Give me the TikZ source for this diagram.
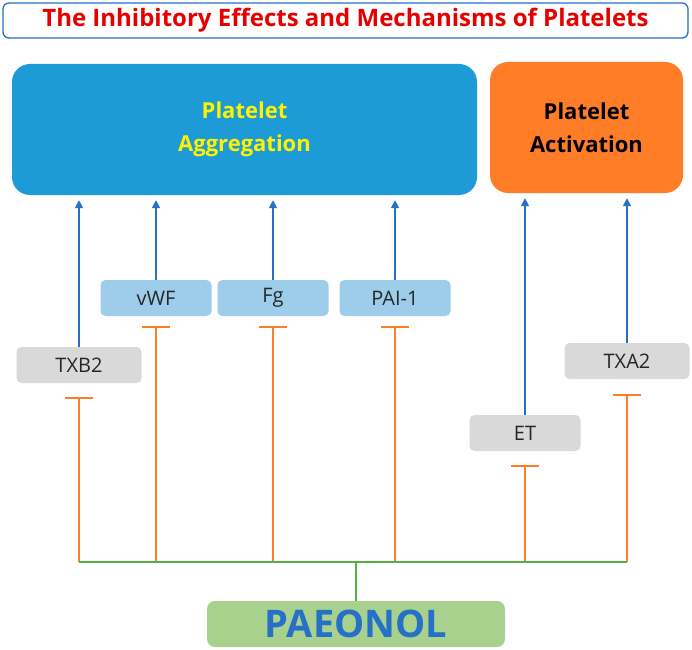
\documentclass[tikz,border=0pt]{standalone}
\usepackage{fontspec}
\setmainfont{Open Sans}
\usetikzlibrary{positioning,arrows.meta}

\definecolor{aggblue}{RGB}{29,155,215}
\definecolor{actorange}{RGB}{255,125,39}
\definecolor{factblue}{RGB}{157,205,235}
\definecolor{factgray}{RGB}{217,217,217}
\definecolor{paeogreen}{RGB}{169,209,142}
\definecolor{busgreen}{RGB}{84,176,64}
\definecolor{arrowblue}{RGB}{38,112,200}
\definecolor{titlered}{RGB}{230,0,0}

\begin{document}
\begin{tikzpicture}[x=1pt,y=1pt,
    facteur/.style={rounded corners=5pt, minimum height=36pt, inner sep=0pt,
        font=\fontsize{20}{20}\selectfont, text=black!85},
    stim/.style={draw=arrowblue, line width=1.6pt, -{Triangle[width=8pt,length=8pt]}, shorten >=5pt},
    inhib/.style={draw=actorange, line width=1.8pt, -{Bar[width=28pt]}}]
    \useasboundingbox (0,0) rectangle (692,649);

    % Titre
    \node[draw=arrowblue, line width=1.3pt, rounded corners=6pt, fill=white,
        minimum width=685pt, minimum height=35pt, inner sep=0pt,
        font=\fontsize{24}{24}\selectfont\bfseries, text=titlered]
        (titre) at (345.5,628.5) {The Inhibitory Effects and Mechanisms of Platelets};

    % Effets
    \node[fill=aggblue, rounded corners=18pt, minimum width=465pt, minimum height=131pt,
        align=center, font=\fontsize{22}{33}\selectfont\bfseries, text=yellow]
        (agg) at (244.5,519.5) {Platelet\\Aggregation};
    \node[fill=actorange, rounded corners=18pt, minimum width=193pt, minimum height=131pt,
        align=center, font=\fontsize{22}{33}\selectfont\bfseries, text=black]
        (act) at (586.5,521.5) {Platelet\\Activation};

    % Facteurs
    \node[facteur, fill=factgray, minimum width=125pt] (txb) at (79,284) {TXB2};
    \node[facteur, fill=factblue, minimum width=111pt] (vwf) at (156,351) {vWF};
    \node[facteur, fill=factblue, minimum width=111pt] (fg) at (273,351) {Fg};
    \node[facteur, fill=factblue, minimum width=111pt] (pai) at (395,351) {PAI-1};
    \node[facteur, fill=factgray, minimum width=111pt] (et) at (525,216) {ET};
    \node[facteur, fill=factgray, minimum width=125pt] (txa) at (627,288) {TXA2};

    % Stimulation
    \foreach \f in {txb,vwf,fg,pai}
        \draw[stim] (\f.north) -- (\f.north |- agg.south);
    \foreach \f in {et,txa}
        \draw[stim] (\f.north) -- (\f.north |- act.south);

    % Paeonol
    \node[fill=paeogreen, rounded corners=8pt, minimum width=298pt, minimum height=46pt,
        font=\fontsize{38}{38}\selectfont\bfseries, text=arrowblue]
        (paeo) at (356,25) {PAEONOL};
    \coordinate (bus) at (356,87);

    % Inhibition
    \draw[inhib] (txb.south |- bus) -- ([yshift=-14pt]txb.south);
    \draw[inhib] (vwf.south |- bus) -- ([yshift=-10pt]vwf.south);
    \draw[inhib] (fg.south |- bus) -- ([yshift=-10pt]fg.south);
    \draw[inhib] (pai.south |- bus) -- ([yshift=-10pt]pai.south);
    \draw[inhib] (et.south |- bus) -- ([yshift=-14pt]et.south);
    \draw[inhib] (txa.south |- bus) -- ([yshift=-15pt]txa.south);
    \draw[busgreen, line width=1.8pt] (txb.south |- bus) -- (txa.south |- bus);
    \draw[busgreen, line width=1.8pt] (paeo.north) -- (bus);
\end{tikzpicture}
\end{document}
